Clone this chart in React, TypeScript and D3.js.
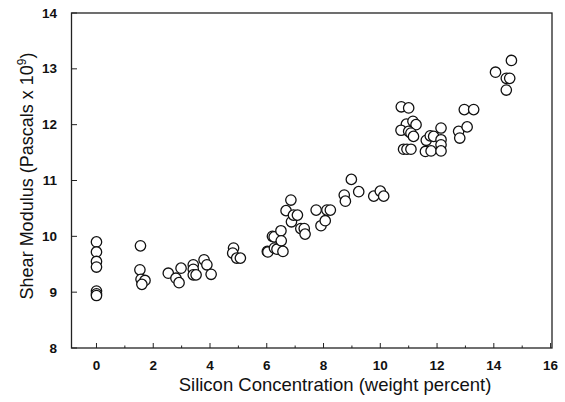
import { useEffect, useRef } from "react";
import * as d3 from "d3";

// silicon concentration (weight percent)
const silicon = [
  0, 0, 0, 0, 0, 0, 0,
  1.55, 1.53, 1.57, 1.71, 1.6,
  2.53, 2.8, 2.91, 2.98,
  3.41, 3.41, 3.41, 3.51, 3.79, 3.89, 4.04,
  4.83, 4.8, 4.94, 5.07,
  6.02, 6.04, 6.2, 6.27, 6.26, 6.36, 6.5, 6.51, 6.57,
  6.68, 6.85, 6.87, 6.94, 7.08, 7.2, 7.32, 7.35,
  7.74, 7.91, 8.06, 8.12, 8.24,
  8.73, 8.77, 8.98, 9.24, 9.77, 10.0, 10.12,
  10.74, 11.0, 10.92, 11.15, 11.26, 10.73, 11.0, 11.08, 11.17,
  10.82, 10.94, 11.08, 11.62, 11.76, 11.88, 11.59, 11.79,
  12.14, 12.14, 12.14, 12.14, 12.76, 12.8, 13.06, 12.96, 13.29,
  14.62, 14.06, 14.44, 14.56, 14.44,
];

// shear modulus (Pascals x 10^9)
const modulus = [
  9.9, 9.72, 9.55, 9.45, 9.02, 8.97, 8.94,
  9.83, 9.4, 9.23, 9.21, 9.14,
  9.34, 9.25, 9.17, 9.43,
  9.49, 9.41, 9.31, 9.31, 9.58, 9.49, 9.32,
  9.79, 9.7, 9.61, 9.61,
  9.73, 9.72, 10.0, 9.79, 9.99, 9.77, 10.1, 9.92, 9.73,
  10.46, 10.65, 10.26, 10.38, 10.38, 10.14, 10.14, 10.04,
  10.47, 10.19, 10.28, 10.47, 10.47,
  10.74, 10.63, 11.02, 10.8, 10.72, 10.81, 10.72,
  12.32, 12.3, 12.01, 12.06, 12.0, 11.9, 11.88, 11.85, 11.79,
  11.56, 11.56, 11.56, 11.72, 11.8, 11.79, 11.52, 11.53,
  11.94, 11.73, 11.64, 11.53, 11.88, 11.76, 11.96, 12.27, 12.27,
  13.15, 12.94, 12.83, 12.83, 12.62,
];

const xMajor = [0, 2, 4, 6, 8, 10, 12, 14, 16];
const xMinor = [1, 3, 5, 7, 9, 11, 13, 15];
const yMajor = [8, 9, 10, 11, 12, 13, 14];

const W = 565;
const H = 402;
const font = "Liberation Sans, Arial, sans-serif";

export default function App() {
  const ref = useRef<SVGSVGElement>(null);

  useEffect(() => {
    const svg = d3.select(ref.current);
    svg.selectAll("*").remove();

    const x = d3.scaleLinear().domain([-0.88, 16.05]).range([71.5, 552]);
    const y = d3.scaleLinear().domain([8, 14]).range([348, 13]);

    // frame
    svg
      .append("rect")
      .attr("x", 71.5)
      .attr("y", 13)
      .attr("width", 552 - 71.5)
      .attr("height", 348 - 13)
      .attr("fill", "none")
      .attr("stroke", "#222")
      .attr("stroke-width", 1.3);

    // x ticks, pointing inward
    svg
      .append("g")
      .selectAll("line")
      .data(xMajor)
      .join("line")
      .attr("x1", (d) => x(d))
      .attr("x2", (d) => x(d))
      .attr("y1", 348)
      .attr("y2", 343)
      .attr("stroke", "#222");
    svg
      .append("g")
      .selectAll("line")
      .data(xMinor)
      .join("line")
      .attr("x1", (d) => x(d))
      .attr("x2", (d) => x(d))
      .attr("y1", 348)
      .attr("y2", 345.5)
      .attr("stroke", "#222");
    svg
      .append("g")
      .selectAll("text")
      .data(xMajor)
      .join("text")
      .attr("x", (d) => x(d))
      .attr("y", 370)
      .attr("text-anchor", "middle")
      .attr("font-family", font)
      .attr("font-size", 13.5)
      .attr("font-weight", "bold")
      .attr("fill", "#111")
      .text((d) => d);

    // y ticks
    svg
      .append("g")
      .selectAll("line")
      .data(yMajor)
      .join("line")
      .attr("x1", 71.5)
      .attr("x2", 77)
      .attr("y1", (d) => y(d))
      .attr("y2", (d) => y(d))
      .attr("stroke", "#222");
    svg
      .append("g")
      .selectAll("text")
      .data(yMajor)
      .join("text")
      .attr("x", 57)
      .attr("y", (d) => y(d) + 4.5)
      .attr("text-anchor", "end")
      .attr("font-family", font)
      .attr("font-size", 13.5)
      .attr("font-weight", "bold")
      .attr("fill", "#111")
      .text((d) => d);

    // points
    svg
      .append("g")
      .selectAll("circle")
      .data(d3.range(silicon.length))
      .join("circle")
      .attr("cx", (i) => x(silicon[i]))
      .attr("cy", (i) => y(modulus[i]))
      .attr("r", 5.2)
      .attr("fill", "white")
      .attr("stroke", "#111")
      .attr("stroke-width", 1.3);

    // axis titles
    svg
      .append("text")
      .attr("x", 335)
      .attr("y", 391)
      .attr("text-anchor", "middle")
      .attr("font-family", font)
      .attr("font-size", 18.5)
      .attr("fill", "#111")
      .text("Silicon Concentration (weight percent)");

    const yt = svg
      .append("text")
      .attr("transform", "translate(33,176) rotate(-90)")
      .attr("text-anchor", "middle")
      .attr("font-family", font)
      .attr("font-size", 18)
      .attr("fill", "#111");
    yt.append("tspan").text("Shear Modulus (Pascals x 10");
    yt.append("tspan").attr("font-size", 12).attr("dy", -7).text("9");
    yt.append("tspan").attr("dy", 7).text(")");
  }, []);

  return (
    <div style={{ position: "absolute", left: 0, top: 0 }}>
      <svg ref={ref} width={W} height={H} style={{ display: "block", background: "white" }} />
    </div>
  );
}
